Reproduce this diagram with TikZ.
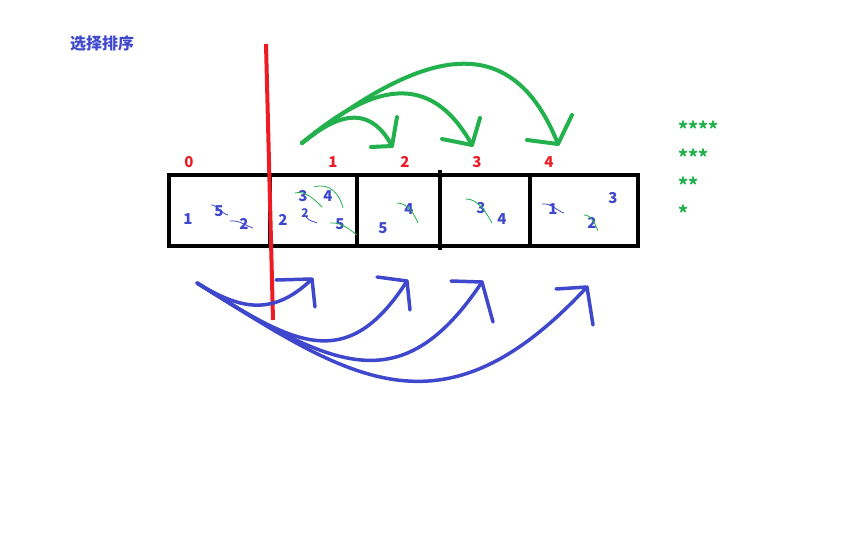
\documentclass[tikz,border=0pt]{standalone}
\usepackage{fontspec}
\newfontfamily\cjk{Noto Sans CJK SC}
\definecolor{pblue}{RGB}{63,72,204}
\definecolor{pred}{RGB}{237,28,36}
\definecolor{pgreen}{RGB}{34,177,76}
\begin{document}
\begin{tikzpicture}[x=1pt,y=-1pt,
    idx/.style={text=pred,font=\cjk\bfseries\fontsize{15}{15}\selectfont,inner sep=0pt},
    num/.style={text=pblue,font=\cjk\bfseries\fontsize{15}{15}\selectfont,inner sep=0pt},
    stars/.style={text=pgreen,font=\cjk\bfseries\fontsize{19}{19}\selectfont,inner sep=0pt,anchor=base west},
    garc/.style={pgreen,line width=4pt,line cap=round,line join=round},
    barc/.style={pblue,line width=3.5pt,line cap=round,line join=round},
    gscrib/.style={pgreen,line width=0.8pt},
    bscrib/.style={pblue,line width=0.8pt}]
  \useasboundingbox (0,0) rectangle (864,540);
  % Titel
  \node[text=pblue,font=\cjk\bfseries\fontsize{16}{16}\selectfont,anchor=west,inner sep=0pt] (title) at (70,43) {选择排序};
  % Array
  \draw[line width=4.5pt] (169,175) rectangle (638,246);
  \draw[line width=4pt] (270,175) -- (270,246);
  \draw[line width=4pt] (357,175) -- (357,246);
  \draw[line width=4pt] (440,170) -- (440,250);
  \draw[line width=4pt] (530,175) -- (530,246);
  % Index
  \node[idx] (i0) at (189,162) {0};
  \node[idx] (i1) at (333,162) {1};
  \node[idx] (i2) at (405,162) {2};
  \node[idx] (i3) at (477,162) {3};
  \node[idx] (i4) at (549,162) {4};
  % Zahlen
  \node[num] (a1) at (188,219) {1};
  \node[num] (a5) at (219,211) {5};
  \node[num] (a2) at (244,224) {2};
  \node[num] (b2) at (283,220) {2};
  \node[num] (b3) at (303,196) {3};
  \node[num] (b4) at (328,196) {4};
  \node[num,font=\cjk\bfseries\fontsize{12}{12}\selectfont] (bx) at (305,213) {2};
  \node[num] (b5) at (340,224) {5};
  \node[num] (c5) at (383,228) {5};
  \node[num] (c4) at (409,209) {4};
  \node[num] (d3) at (481,208) {3};
  \node[num] (d4) at (502,219) {4};
  \node[num] (e1) at (553,209) {1};
  \node[num] (e2) at (592,223) {2};
  \node[num] (e3) at (613,198) {3};
  % Kritzel
  \draw[bscrib] (211,205) .. controls (216,204) and (222,214) .. (228,215);
  \draw[bscrib] (230,221) .. controls (240,220) and (246,226) .. (253,228);
  \draw[bscrib] (306,217) .. controls (310,222) and (314,221) .. (317,223);
  \draw[bscrib] (542,204) .. controls (552,203) and (557,211) .. (564,213);
  \draw[gscrib] (295,193) .. controls (305,190) and (315,200) .. (322,207);
  \draw[gscrib] (314,187) .. controls (330,182) and (340,195) .. (343,208);
  \draw[gscrib] (330,223) .. controls (342,222) and (350,230) .. (357,235);
  \draw[gscrib] (397,203) .. controls (408,203) and (414,214) .. (418,223);
  \draw[gscrib] (466,199) .. controls (478,199) and (486,212) .. (492,223);
  \draw[gscrib] (584,215) .. controls (592,215) and (595,224) .. (598,231);
  % Sterne
  \node[stars] (s4) at (678,137) {****};
  \node[stars] (s3) at (678,165) {***};
  \node[stars] (s2) at (678,193) {**};
  \node[stars] (s1) at (678,220) {*};
  % Trennlinie
  \draw[pred,line width=4pt] (266,44) -- (273,320);
  % gruene Boegen
  \coordinate (gs) at (302,143);
  \coordinate (g1) at (392,146);
  \coordinate (g2) at (472,145);
  \coordinate (g3) at (558,144);
  \draw[garc] (gs) .. controls (325,125) and (365,95) .. (g1);
  \draw[garc] (gs) .. controls (360,95) and (425,60) .. (g2);
  \draw[garc] (gs) .. controls (400,68) and (505,10) .. (g3);
  \draw[garc] (371,147) -- (g1) -- (397,117);
  \draw[garc] (442,139) -- (g2) -- (480,118);
  \draw[garc] (527,140) -- (g3) -- (572,115);
  % blaue Boegen
  \coordinate (bs) at (197,283);
  \coordinate (b1) at (312,279);
  \coordinate (b2) at (407,281);
  \coordinate (b3) at (482,282);
  \coordinate (b4) at (587,287);
  \draw[barc] (bs) .. controls (235,306) and (270,320) .. (b1);
  \draw[barc] (bs) .. controls (290,341) and (345,378) .. (b2);
  \draw[barc] (bs) .. controls (330,366) and (400,405) .. (b3);
  \draw[barc] (bs) .. controls (348,377) and (440,445) .. (b4);
  \draw[barc] (276,280) -- (b1) -- (315,307);
  \draw[barc] (377,277) -- (b2) -- (410,310);
  \draw[barc] (451,281) -- (b3) -- (493,322);
  \draw[barc] (556,289) -- (b4) -- (593,325);
\end{tikzpicture}
\end{document}
